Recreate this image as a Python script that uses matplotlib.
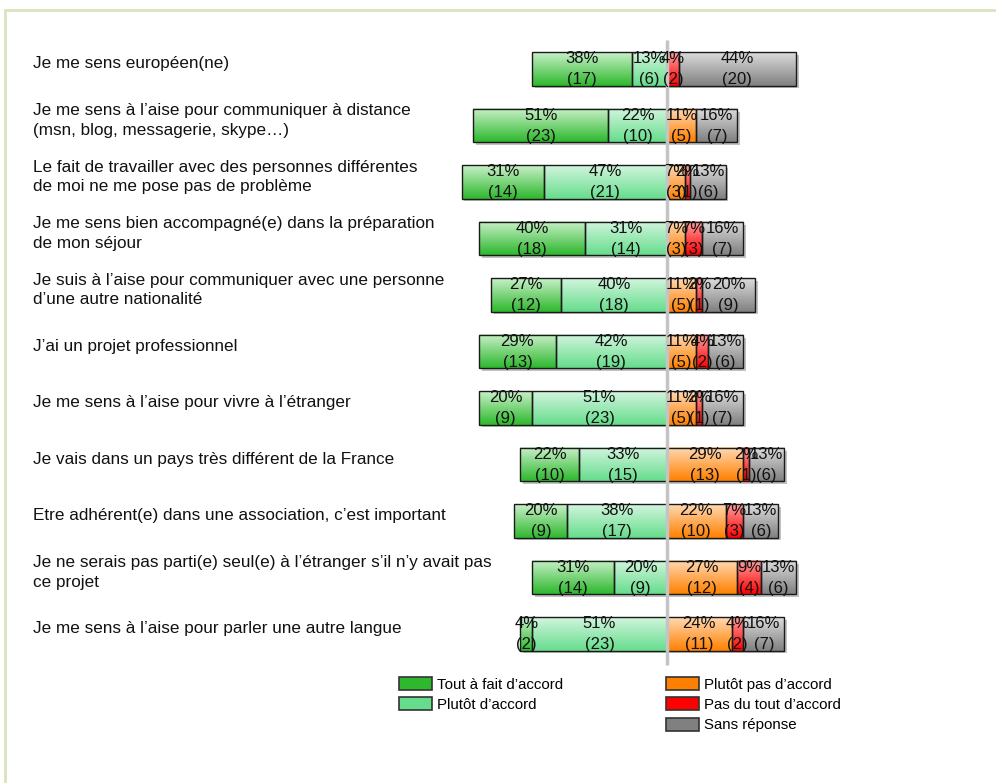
import numpy as np
import matplotlib
matplotlib.use("Agg")
import matplotlib.pyplot as plt
from matplotlib.colors import LinearSegmentedColormap
from matplotlib.patches import Patch, Rectangle
import matplotlib.patheffects as pe

plt.rcParams['font.family'] = ['Liberation Sans', 'DejaVu Sans']

statements = [
    "Je me sens européen(ne)",
    "Je me sens à l’aise pour communiquer à distance\n(msn, blog, messagerie, skype…)",
    "Le fait de travailler avec des personnes différentes\nde moi ne me pose pas de problème",
    "Je me sens bien accompagné(e) dans la préparation\nde mon séjour",
    "Je suis à l’aise pour communiquer avec une personne\nd’une autre nationalité",
    "J’ai un projet professionnel",
    "Je me sens à l’aise pour vivre à l’étranger",
    "Je vais dans un pays très différent de la France",
    "Etre adhérent(e) dans une association, c’est important",
    "Je ne serais pas parti(e) seul(e) à l’étranger s’il n’y avait pas\nce projet",
    "Je me sens à l’aise pour parler une autre langue",
]

# Number of respondents per answer (45 respondents in total)
tout_a_fait = [17, 23, 14, 18, 12, 13, 9, 10, 9, 14, 2]
plutot = [6, 10, 21, 14, 18, 19, 23, 15, 17, 9, 23]
plutot_pas = [0, 5, 3, 3, 5, 5, 5, 13, 10, 12, 11]
pas_du_tout = [2, 0, 1, 3, 1, 2, 1, 1, 3, 4, 2]
sans_reponse = [20, 7, 6, 7, 9, 6, 7, 6, 6, 6, 7]
respondents = 45

answer_labels = ["Tout à fait d’accord", "Plutôt d’accord", "Plutôt pas d’accord",
                 "Pas du tout d’accord", "Sans réponse"]
base_colors = ["#2eb82e", "#66dd8c", "#ff8000", "#ff0000", "#808080"]
light_colors = ["#c8f0c8", "#d2f5de", "#ffd9b3", "#ffa0a0", "#dcdcdc"]

W, H = 996, 783
fig = plt.figure(figsize=(W / 100, H / 100), dpi=100)
ax = fig.add_axes([0, 0, 1, 1])
ax.axis('off')

# layout in pixels -> data
center_px = 667
px_per_pct = 2.64
row0_px = 69
row_step = 56.5
bar_h = 0.59

y = np.arange(len(statements))
counts = [np.array(c, float) for c in (tout_a_fait, plutot, plutot_pas, pas_du_tout, sans_reponse)]
pcts = [c / respondents * 100 for c in counts]

lefts = [-(pcts[0] + pcts[1]), -pcts[1], np.zeros(len(y)), pcts[2], pcts[2] + pcts[3]]

grad = np.linspace(0, 1, 64).reshape(-1, 1)

# background layer carrying the soft drop shadow
total_left = lefts[0]
total_width = pcts[0] + pcts[1] + pcts[2] + pcts[3] + pcts[4]
ax.barh(y, total_width, left=total_left, height=bar_h, color='white', zorder=1,
        path_effects=[pe.SimplePatchShadow(offset=(2, -2), shadow_rgbFace='#999999', alpha=0.6),
                      pe.Normal()])

for k in range(5):
    cmap = LinearSegmentedColormap.from_list(f"g{k}", [light_colors[k], base_colors[k]])
    bars = ax.barh(y, pcts[k], left=lefts[k], height=bar_h, facecolor='none',
                   edgecolor='#1a1a1a', linewidth=1.0, zorder=3)
    for i, rect in enumerate(bars):
        n = int(counts[k][i])
        if n == 0:
            rect.set_visible(False)
            continue
        x0, w = rect.get_x(), rect.get_width()
        yc = y[i]
        ax.imshow(grad, cmap=cmap, aspect='auto', origin='upper', zorder=2,
                  extent=[x0, x0 + w, yc + bar_h / 2, yc - bar_h / 2], interpolation='bilinear')
        ax.text(x0 + w / 2, yc + 0.005, f"{round(pcts[k][i]):.0f}%\n({n})", ha='center', va='center',
                fontsize=12, linespacing=1.52, color='#111111', zorder=5)

# statements
for i, s in enumerate(statements):
    ax.text(33 / W, y[i] - 0.09, s, transform=ax.get_yaxis_transform(), ha='left', va='center',
            fontsize=12.3, linespacing=1.38, color='#111111')

# central axis
ax.plot([0, 0], [(40 - row0_px) / row_step, (665 - row0_px) / row_step], color='#c4c4c4',
        lw=2.5, zorder=4, solid_capstyle='butt')

ax.set_xlim(-center_px / px_per_pct, (W - center_px) / px_per_pct)
ax.set_ylim((H - row0_px) / row_step, -row0_px / row_step)

# legends
handles = [Patch(facecolor=base_colors[k], edgecolor='#333333', linewidth=1.2, label=answer_labels[k])
           for k in range(5)]
common = dict(frameon=False, fontsize=10.8, handlelength=2.2, handleheight=0.95, handletextpad=0.3,
              labelspacing=0.38, borderpad=0, borderaxespad=0, loc='upper left')
fig.legend(handles=handles[:2], bbox_to_anchor=(399 / W, 1 - 677 / H), **common)
fig.legend(handles=handles[2:], bbox_to_anchor=(666 / W, 1 - 677 / H), **common)

# outer frame
fig.add_artist(Rectangle((5 / W, -0.1), 1.2, 1 - 10 / H + 0.1, transform=fig.transFigure,
                         fill=False, edgecolor='#d7e4bd', linewidth=2))

fig.savefig("out.png", dpi=100)
